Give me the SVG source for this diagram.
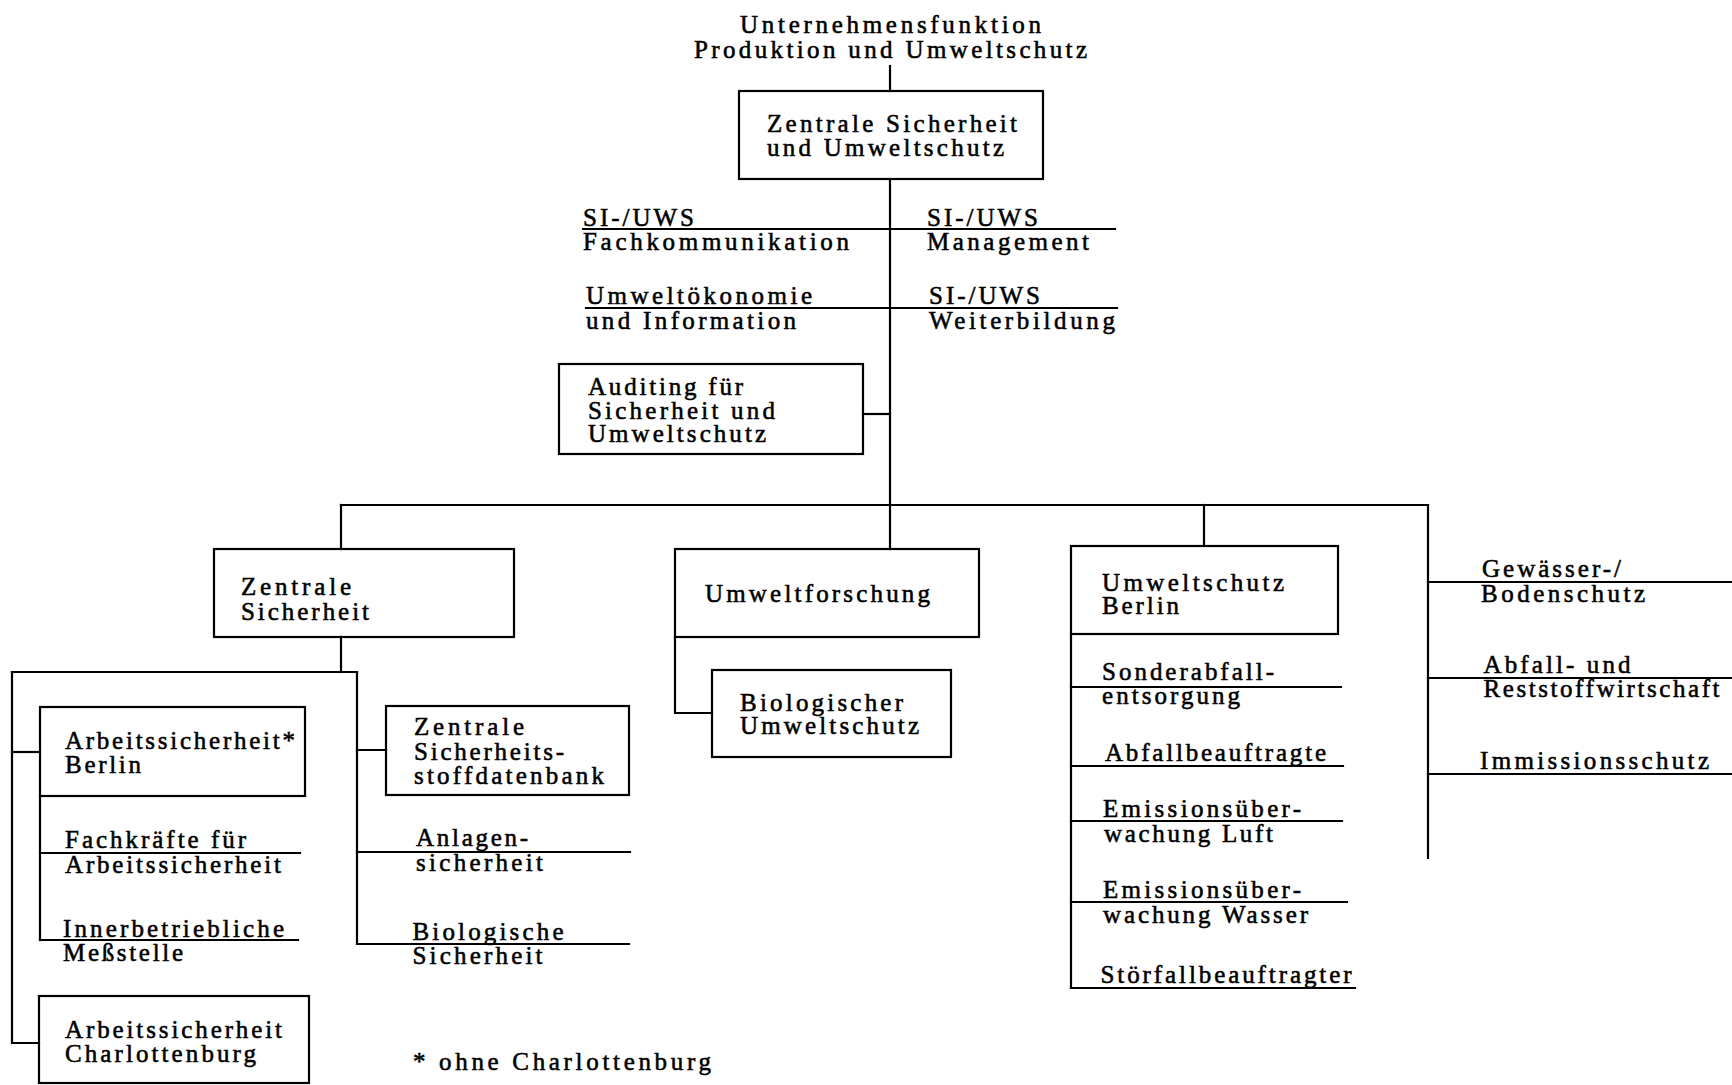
<svg xmlns="http://www.w3.org/2000/svg" width="1732" height="1085" viewBox="0 0 1732 1085">
<style>
text { font-family: "Liberation Serif", "Times New Roman", serif; font-size: 25px; fill: #000; stroke: #000; stroke-width: 0.55px; }
.box { fill: none; stroke: #000; stroke-width: 2.2; }
.ln { fill: none; stroke: #000; stroke-width: 2.2; stroke-linecap: square; }
</style>
<rect x="0" y="0" width="1732" height="1085" fill="#fff"/>

<g id="connectors" class="ln">
  <path d="M890,66 V91"/>
  <path d="M890,179 V505"/>
  <path d="M583,229 H1115"/>
  <path d="M586,308 H1117"/>
  <path d="M863,414 H890"/>
  <path d="M341,505 H1428"/>
  <path d="M341,505 V549"/>
  <path d="M890,505 V549"/>
  <path d="M1204,505 V546"/>
  <path d="M1428,505 V858"/>
  <path d="M1428,582 H1732"/>
  <path d="M1428,678 H1732"/>
  <path d="M1428,774 H1732"/>
  <path d="M341,637 V672"/>
  <path d="M12,672 H357"/>
  <path d="M12,672 V1043 H39"/>
  <path d="M12,752 H40"/>
  <path d="M40,796 V940"/>
  <path d="M40,853 H300"/>
  <path d="M40,940 H298"/>
  <path d="M357,672 V944"/>
  <path d="M357,750 H386"/>
  <path d="M357,852 H630"/>
  <path d="M357,944 H629"/>
  <path d="M675,637 V713 H712"/>
  <path d="M1071,634 V988"/>
  <path d="M1071,687 H1341"/>
  <path d="M1071,766 H1343"/>
  <path d="M1071,821 H1342"/>
  <path d="M1071,902 H1347"/>
  <path d="M1071,988 H1355"/>
</g>

<g id="title">
  <text><tspan x="740" y="33" textLength="301" lengthAdjust="spacing">Unternehmensfunktion</tspan><tspan x="694" y="58" textLength="393" lengthAdjust="spacing">Produktion und Umweltschutz</tspan></text>
</g>

<g id="zentrale-sicherheit-umweltschutz">
  <rect class="box" x="739" y="91" width="304" height="88"/>
  <text><tspan x="767" y="132" textLength="250" lengthAdjust="spacing">Zentrale Sicherheit</tspan><tspan x="767" y="156" textLength="237" lengthAdjust="spacing">und Umweltschutz</tspan></text>
</g>

<g id="si-uws-fachkommunikation">
  <text><tspan x="583" y="226" textLength="111" lengthAdjust="spacing">SI-/UWS</tspan><tspan x="583" y="250" textLength="266" lengthAdjust="spacing">Fachkommunikation</tspan></text>
</g>
<g id="si-uws-management">
  <text><tspan x="927" y="226" textLength="111" lengthAdjust="spacing">SI-/UWS</tspan><tspan x="927" y="250" textLength="162" lengthAdjust="spacing">Management</tspan></text>
</g>
<g id="umweltoekonomie">
  <text><tspan x="586" y="304" textLength="226" lengthAdjust="spacing">Umweltökonomie</tspan><tspan x="586" y="329" textLength="210" lengthAdjust="spacing">und Information</tspan></text>
</g>
<g id="si-uws-weiterbildung">
  <text><tspan x="929" y="304" textLength="111" lengthAdjust="spacing">SI-/UWS</tspan><tspan x="929" y="329" textLength="186" lengthAdjust="spacing">Weiterbildung</tspan></text>
</g>

<g id="auditing">
  <rect class="box" x="559" y="364" width="304" height="90"/>
  <text><tspan x="588" y="395" textLength="155" lengthAdjust="spacing">Auditing für</tspan><tspan x="588" y="418.5" textLength="187" lengthAdjust="spacing">Sicherheit und</tspan><tspan x="588" y="442" textLength="178" lengthAdjust="spacing">Umweltschutz</tspan></text>
</g>

<g id="zentrale-sicherheit">
  <rect class="box" x="214" y="549" width="300" height="88"/>
  <text><tspan x="241" y="595" textLength="110" lengthAdjust="spacing">Zentrale</tspan><tspan x="241" y="620" textLength="128" lengthAdjust="spacing">Sicherheit</tspan></text>
</g>

<g id="arbeitssicherheit-berlin">
  <rect class="box" x="40" y="707" width="265" height="89"/>
  <text><tspan x="65" y="749" textLength="230" lengthAdjust="spacing">Arbeitssicherheit*</tspan><tspan x="65" y="772.5" textLength="76" lengthAdjust="spacing">Berlin</tspan></text>
</g>
<g id="fachkraefte">
  <text><tspan x="65" y="848" textLength="181" lengthAdjust="spacing">Fachkräfte für</tspan><tspan x="65" y="873" textLength="216" lengthAdjust="spacing">Arbeitssicherheit</tspan></text>
</g>
<g id="messstelle">
  <text><tspan x="63" y="936.5" textLength="221" lengthAdjust="spacing">Innerbetriebliche</tspan><tspan x="63" y="961" textLength="120" lengthAdjust="spacing">Meßstelle</tspan></text>
</g>
<g id="arbeitssicherheit-charlottenburg">
  <rect class="box" x="39" y="996" width="270" height="87"/>
  <text><tspan x="65" y="1037.5" textLength="217" lengthAdjust="spacing">Arbeitssicherheit</tspan><tspan x="65" y="1062" textLength="191" lengthAdjust="spacing">Charlottenburg</tspan></text>
</g>

<g id="stoffdatenbank">
  <rect class="box" x="386" y="706" width="243" height="89"/>
  <text><tspan x="414" y="735" textLength="110" lengthAdjust="spacing">Zentrale</tspan><tspan x="414" y="759.5" textLength="150" lengthAdjust="spacing">Sicherheits-</tspan><tspan x="414" y="784" textLength="190" lengthAdjust="spacing">stoffdatenbank</tspan></text>
</g>
<g id="anlagensicherheit">
  <text><tspan x="416" y="846" textLength="112" lengthAdjust="spacing">Anlagen-</tspan><tspan x="416" y="871" textLength="127" lengthAdjust="spacing">sicherheit</tspan></text>
</g>
<g id="biologische-sicherheit">
  <text><tspan x="412.5" y="939.5" textLength="151" lengthAdjust="spacing">Biologische</tspan><tspan x="412.5" y="963.5" textLength="130" lengthAdjust="spacing">Sicherheit</tspan></text>
</g>

<g id="footnote">
  <text x="413" y="1070" textLength="298" lengthAdjust="spacing">* ohne Charlottenburg</text>
</g>

<g id="umweltforschung">
  <rect class="box" x="675" y="549" width="304" height="88"/>
  <text x="705" y="602" textLength="225" lengthAdjust="spacing">Umweltforschung</text>
</g>
<g id="biologischer-umweltschutz">
  <rect class="box" x="712" y="670" width="239" height="87"/>
  <text><tspan x="740" y="710.5" textLength="163" lengthAdjust="spacing">Biologischer</tspan><tspan x="740" y="734" textLength="179" lengthAdjust="spacing">Umweltschutz</tspan></text>
</g>

<g id="umweltschutz-berlin">
  <rect class="box" x="1071" y="546" width="267" height="88"/>
  <text><tspan x="1102" y="590.5" textLength="182" lengthAdjust="spacing">Umweltschutz</tspan><tspan x="1102" y="614" textLength="77" lengthAdjust="spacing">Berlin</tspan></text>
</g>
<g id="sonderabfall">
  <text><tspan x="1102" y="680" textLength="172" lengthAdjust="spacing">Sonderabfall-</tspan><tspan x="1102" y="704" textLength="138" lengthAdjust="spacing">entsorgung</tspan></text>
</g>
<g id="abfallbeauftragte">
  <text x="1105" y="761" textLength="221" lengthAdjust="spacing">Abfallbeauftragte</text>
</g>
<g id="emission-luft">
  <text><tspan x="1103" y="817" textLength="198" lengthAdjust="spacing">Emissionsüber-</tspan><tspan x="1104" y="841.5" textLength="169" lengthAdjust="spacing">wachung Luft</tspan></text>
</g>
<g id="emission-wasser">
  <text><tspan x="1103" y="897.5" textLength="198" lengthAdjust="spacing">Emissionsüber-</tspan><tspan x="1103" y="922.5" textLength="205" lengthAdjust="spacing">wachung Wasser</tspan></text>
</g>
<g id="stoerfall">
  <text x="1100.5" y="983" textLength="251" lengthAdjust="spacing">Störfallbeauftragter</text>
</g>

<g id="gewaesser">
  <text><tspan x="1482" y="577" textLength="139" lengthAdjust="spacing">Gewässer-/</tspan><tspan x="1481" y="601.5" textLength="164" lengthAdjust="spacing">Bodenschutz</tspan></text>
</g>
<g id="abfall-reststoff">
  <text><tspan x="1483.5" y="673" textLength="147" lengthAdjust="spacing">Abfall- und</tspan><tspan x="1483.5" y="697" textLength="236" lengthAdjust="spacing">Reststoffwirtschaft</tspan></text>
</g>
<g id="immissionsschutz">
  <text x="1480" y="768.5" textLength="229" lengthAdjust="spacing">Immissionsschutz</text>
</g>
</svg>
